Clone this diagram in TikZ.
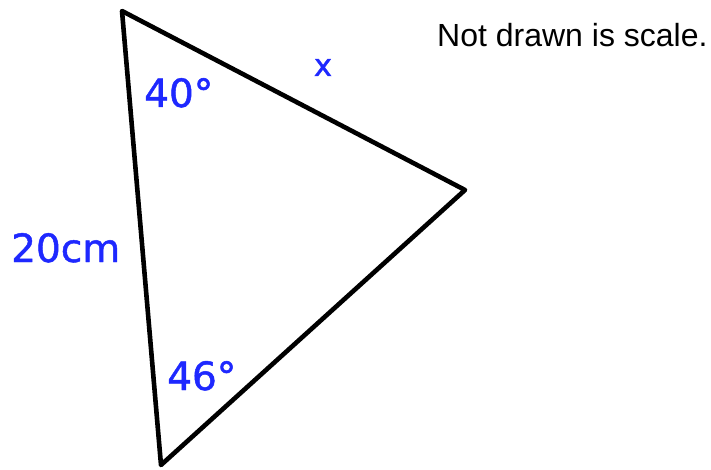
\documentclass[tikz,border=0pt]{standalone}
\usepackage{fontspec}
\setmainfont{Liberation Sans}
\newfontfamily\labfont[FakeBold=1.2]{DejaVu Sans}
\definecolor{labblue}{RGB}{30,40,255}
\begin{document}
\begin{tikzpicture}[x=1pt,y=-1pt,
  edge/.style={line width=4.6pt,line join=round,line cap=round},
  lab/.style={text=labblue,font=\labfont\fontsize{39}{39}\selectfont,inner sep=0pt},
  note/.style={font=\fontsize{32}{32}\selectfont,inner sep=0pt}]
\useasboundingbox (0,0) rectangle (711,470);
\coordinate (T) at (122,11);
\coordinate (R) at (465,190);
\coordinate (B) at (161,465);
\draw[edge] (T) -- (R) -- (B) -- cycle;
\node[lab,anchor=base west] (a40) at (144,107) {40°};
\node[lab,anchor=base,font=\labfont\fontsize{31}{31}\selectfont] (x) at (323,76) {x};
\node[lab,anchor=base west] (l20) at (11,262) {20cm};
\node[lab,anchor=base west] (a46) at (167,390) {46°};
\node[note,anchor=base west] (n) at (437,47) {Not drawn is scale.};
\end{tikzpicture}
\end{document}
